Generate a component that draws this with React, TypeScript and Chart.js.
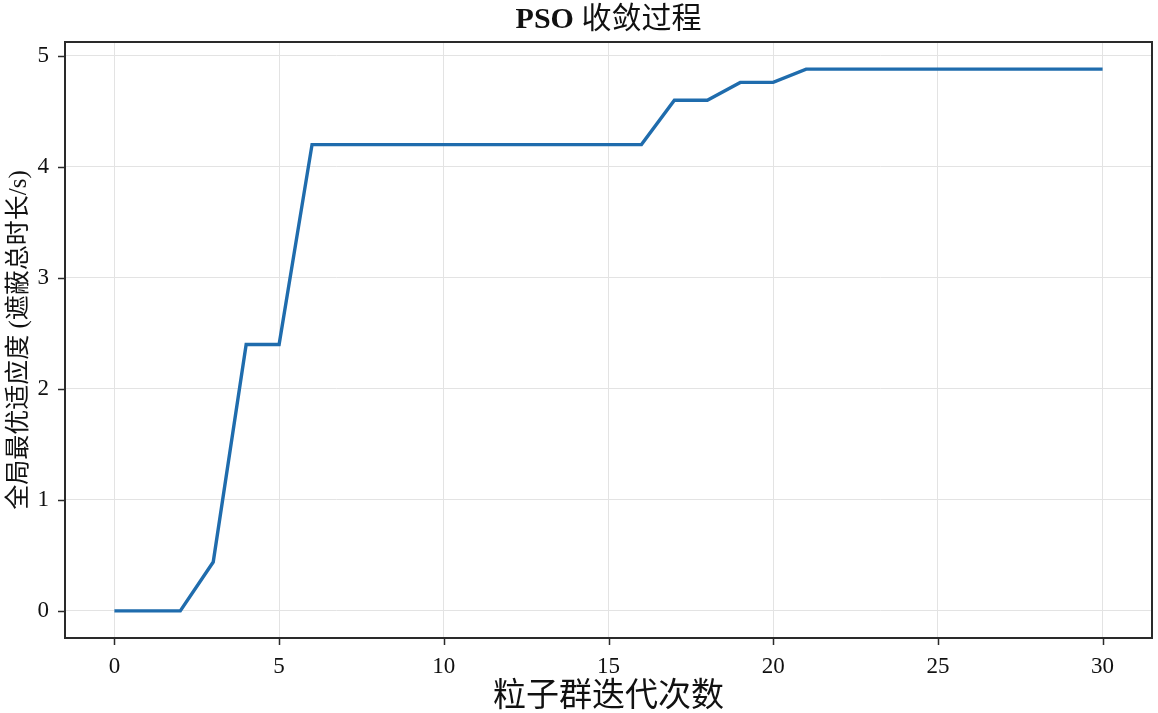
import React, { useEffect, useRef } from "react";
import { Chart, registerables } from "chart.js";

Chart.register(...registerables);

const iterations = [0,1,2,3,4,5,6,7,8,9,10,11,12,13,14,15,16,17,18,19,20,21,22,23,24,25,26,27,28,29,30];
const fitness = [0,0,0,0.44,2.4,2.4,4.2,4.2,4.2,4.2,4.2,4.2,4.2,4.2,4.2,4.2,4.2,4.6,4.6,4.76,4.76,4.88,4.88,4.88,4.88,4.88,4.88,4.88,4.88,4.88,4.88];
const xTicks = [0,5,10,15,20,25,30];
const yTicks = [0,1,2,3,4,5];
const titleLatin = "PSO ";
const titleCJK = "收敛过程";

const FONT = "'Liberation Serif', 'DejaVu Serif', 'Noto Sans CJK SC', serif";

const framePlugin = {
  id: "frame",
  afterDraw(chart: any) {
    const { ctx, chartArea, scales } = chart;
    ctx.save();
    ctx.strokeStyle = "#2a2a2a";
    ctx.lineWidth = 2;
    ctx.strokeRect(chartArea.left, chartArea.top, chartArea.right - chartArea.left, chartArea.bottom - chartArea.top);
    // tick marks
    ctx.lineWidth = 1.5;
    ctx.beginPath();
    xTicks.forEach((v) => {
      const px = Math.round(scales.x.getPixelForValue(v)) + 0.5;
      ctx.moveTo(px, chartArea.bottom);
      ctx.lineTo(px, chartArea.bottom + 7);
    });
    yTicks.forEach((v) => {
      const py = Math.round(scales.y.getPixelForValue(v)) + 0.5;
      ctx.moveTo(chartArea.left, py);
      ctx.lineTo(chartArea.left - 7, py);
    });
    ctx.stroke();
    // title: bold latin part, regular CJK part
    const boldFont = `bold 30px ${FONT}`;
    const regFont = `30px ${FONT}`;
    ctx.font = boldFont;
    const w1 = ctx.measureText(titleLatin).width;
    ctx.font = regFont;
    const w2 = ctx.measureText(titleCJK).width;
    const cx = (chartArea.left + chartArea.right) / 2;
    const x0 = cx - (w1 + w2) / 2;
    ctx.fillStyle = "#111";
    ctx.textBaseline = "middle";
    ctx.textAlign = "left";
    ctx.font = boldFont;
    ctx.fillText(titleLatin, x0, 20);
    ctx.font = regFont;
    ctx.fillText(titleCJK, x0 + w1, 20);
    ctx.restore();
  },
};

export default function App() {
  const ref = useRef<HTMLCanvasElement>(null);
  useEffect(() => {
    document.body.style.margin = "0";
    const chart = new Chart(ref.current!, {
      type: "line",
      data: {
        datasets: [
          {
            data: iterations.map((x, i) => ({ x, y: fitness[i] })),
            borderColor: "#1f6cad",
            borderWidth: 3.4,
            pointRadius: 0,
            tension: 0,
            fill: false,
          },
        ],
      },
      options: {
        animation: false,
        responsive: false,
        layout: { padding: { right: 6, left: 0, top: 42, bottom: 0 } },
        plugins: {
          legend: { display: false },
          tooltip: { enabled: false },
          title: { display: false },
        },
        scales: {
          x: {
            type: "linear",
            min: -1.5,
            max: 31.5,
            afterBuildTicks: (s: any) => { s.ticks = xTicks.map((v) => ({ value: v })); },
            afterFit: (s: any) => { s.height = 75; },
            ticks: { color: "#111", font: { family: FONT, size: 23 }, padding: 8, maxRotation: 0 },
            grid: { color: "#e3e3e3", lineWidth: 1, tickColor: "rgba(0,0,0,0)", tickLength: 7, drawTicks: true },
            border: { display: false },
            title: {
              display: true,
              text: "粒子群迭代次数",
              color: "#111",
              font: { family: FONT, size: 33 },
              padding: { top: 0, bottom: -4 },
            },
          },
          y: {
            type: "linear",
            min: -0.244,
            max: 5.124,
            afterBuildTicks: (s: any) => { s.ticks = yTicks.map((v) => ({ value: v })); },
            afterFit: (s: any) => { s.width = 65; },
            ticks: { color: "#111", font: { family: FONT, size: 23 }, padding: 9 },
            grid: { color: "#e3e3e3", lineWidth: 1, tickColor: "rgba(0,0,0,0)", tickLength: 7, drawTicks: true },
            border: { display: false },
            title: {
              display: true,
              text: "全局最优适应度 (遮蔽总时长/s)",
              color: "#111",
              font: { family: FONT, size: 25 },
              padding: { top: 4, bottom: 0 },
            },
          },
        },
      },
      plugins: [framePlugin],
    } as any);
    return () => chart.destroy();
  }, []);
  return (
    <div style={{ width: 1158, height: 713 }}>
      <canvas ref={ref} width={1158} height={713} style={{ display: "block", background: "#fff" }} />
    </div>
  );
}
